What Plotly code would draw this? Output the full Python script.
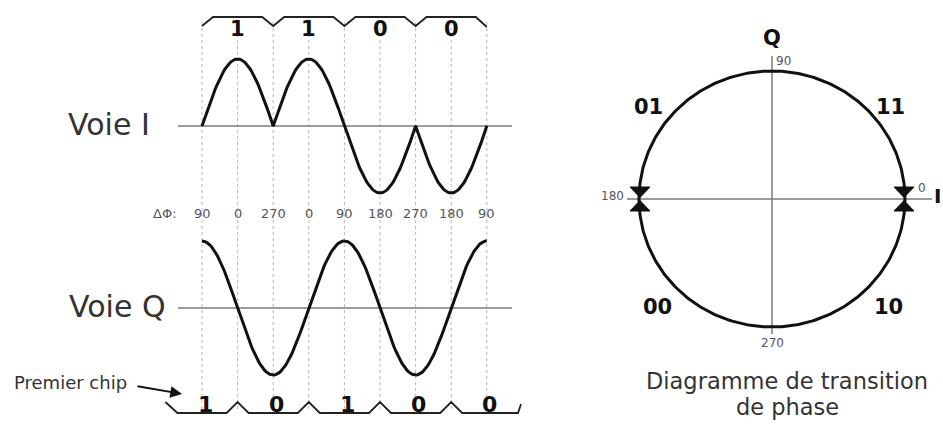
import numpy as np
import plotly.graph_objects as go

# ---------------- data ----------------
I_BITS = ["1", "1", "0", "0"]                 # chips of voie I (top row)
Q_BITS = ["1", "0", "1", "0", "0"]            # chips of voie Q (bottom row)
I_SIGNS = [1, 1, -1, -1]                      # half-sine arch polarity per I chip
Q_PEAKS = [1, -1, 1, -1, 1]                   # Q waveform extrema at chip centres
PHASES = ["90", "0", "270", "0", "90", "180", "270", "180", "90"]
QUADRANTS = ["11", "01", "00", "10"]          # labels at 45,135,225,315 degrees
CIRCLE_TICKS = ["0", "90", "180", "270"]

# ---------------- layout constants (pixel space) ----------------
W, H = 943, 424
X0, HALF = 202.0, 35.6            # first dotted line, half chip width
YI, YQ, AMP = 126.0, 308.0, 67.0  # baselines and amplitude
CX, CY, RX, RY = 772.0, 199.0, 133.0, 128.0
FONT = "DejaVu Sans, Arial, sans-serif"
INK = "#111111"
GRID = "#b8b8b8"
AXC = "#7a7a7a"

fig = go.Figure()

def line(xs, ys, color=INK, width=3, dash=None, fill=None):
    fig.add_trace(go.Scatter(x=xs, y=ys, mode="lines", hoverinfo="skip",
                             line=dict(color=color, width=width, dash=dash),
                             fill=fill, fillcolor=color if fill else None,
                             showlegend=False))

def text(x, y, s, size, color=INK, bold=False, xanchor="center", yanchor="middle"):
    fig.add_annotation(x=x, y=y, text=("<b>%s</b>" % s) if bold else s,
                       showarrow=False, xanchor=xanchor, yanchor=yanchor,
                       font=dict(family=FONT, size=size, color=color))

# dotted guide lines
gx, gy = [], []
for k in range(len(PHASES)):
    x = X0 + k * HALF
    gx += [x, x, None]
    gy += [22, 410, None]
line(gx, gy, color=GRID, width=1, dash="dot")

# baselines
line([178, 512], [YI, YI], color=AXC, width=1.6)
line([178, 512], [YQ, YQ], color=AXC, width=1.6)

# I waveform : half-sine arches
xs, ys = [], []
for k, s in enumerate(I_SIGNS):
    u = np.linspace(0, 1, 60)
    xs += list(X0 + (2 * k + 2 * u) * HALF)
    ys += list(YI - s * AMP * np.sin(np.pi * u))
line(xs, ys, width=3)

# Q waveform : cosine transitions between extrema
xs, ys = [], []
for k in range(len(Q_PEAKS) - 1):
    u = np.linspace(0, 1, 60)
    a, b = Q_PEAKS[k], Q_PEAKS[k + 1]
    v = a + (b - a) * (1 - np.cos(np.pi * u)) / 2
    xs += list(X0 + (2 * k + 2 * u) * HALF)
    ys += list(YQ - AMP * v)
line(xs, ys, width=3)

# top bracket (I chips)
n = 11
bx = [X0, X0 + n]
by = [26, 17]
for k in range(1, len(I_BITS)):
    xb = X0 + 2 * k * HALF
    bx += [xb - n, xb, xb + n]
    by += [17, 26, 17]
xe = X0 + 2 * len(I_BITS) * HALF
bx += [xe - n, xe]
by += [17, 27]
line(bx, by, color="#222", width=1.8)
for k, b in enumerate(I_BITS):
    text(X0 + (2 * k + 1) * HALF, 29, b, 21, bold=True)

# bottom bracket (Q chips)
bx = [X0 - HALF - 1, X0 - HALF + 11]
by = [402, 413]
for k in range(len(Q_BITS) - 1):
    xb = X0 + (2 * k + 1) * HALF
    bx += [xb - n, xb, xb + n]
    by += [413, 402, 413]
bx += [518, 521]
by += [413, 404]
line(bx, by, color="#222", width=1.8)
for k, b in enumerate(Q_BITS):
    text(X0 + 2 * k * HALF + 3, 404, b, 22, bold=True)

# phase row
text(165, 213, "ΔΦ:", 13, color="#555")
for k, p in enumerate(PHASES):
    text(X0 + k * HALF, 213, p, 13, color="#555")

# channel labels
text(152, YI - 2, "Voie I", 30, color="#333", xanchor="right")
text(168, YQ - 2, "Voie Q", 30, color="#333", xanchor="right")
text(12, 382, "Premier chip", 18, color="#333", xanchor="left")
fig.add_annotation(x=182, y=394, ax=136, ay=386, xref="x", yref="y",
                   axref="x", ayref="y", text="", showarrow=True,
                   arrowhead=2, arrowsize=1.3, arrowwidth=1.8, arrowcolor=INK)

# ---------------- phase transition diagram ----------------
line([627, 932], [CY, CY], color=AXC, width=1.5)
line([CX, CX], [56, 334], color=AXC, width=1.5)
t = np.linspace(0, 2 * np.pi, 400)
line(CX + RX * np.cos(t), CY - RY * np.sin(t), width=3)

# arrowheads meeting on the I axis
for xc in (CX - RX + 1, CX + RX - 1):
    for sgn in (-1, 1):
        line([xc - 10, xc + 10, xc, xc - 10],
             [CY + sgn * 12, CY + sgn * 12, CY + sgn * 1.5, CY + sgn * 12],
             width=1, fill="toself")

text(CX, 38, "Q", 21, bold=True)
text(943, CY - 3, "I", 20, bold=True, xanchor="right")
tick_pos = [(922, 188, "center"), (CX + 2, 61, "left"), (626, 196, "right"), (CX, 343, "center")]
for (x, y, xa), s in zip(tick_pos, CIRCLE_TICKS):
    text(x, y, s, 12, color="#555", xanchor=xa)

quad_pos = [(890, 107), (648, 107), (657, 307), (888, 307)]
for (x, y), s in zip(quad_pos, QUADRANTS):
    text(x, y, s, 21, bold=True)

text(787, 381, "Diagramme de transition", 22.5, color="#333")
text(787, 407, "de phase", 22.5, color="#333")

fig.update_layout(
    width=W, height=H, margin=dict(l=0, r=0, t=0, b=0),
    paper_bgcolor="white", plot_bgcolor="white", showlegend=False,
    xaxis=dict(range=[0, W], visible=False, fixedrange=True),
    yaxis=dict(range=[H, 0], visible=False, fixedrange=True),
)
fig.write_html("out.html", config={"displayModeBar": False},
               post_script="document.body.style.margin='0';document.body.style.padding='0';document.body.style.overflow='hidden';")
